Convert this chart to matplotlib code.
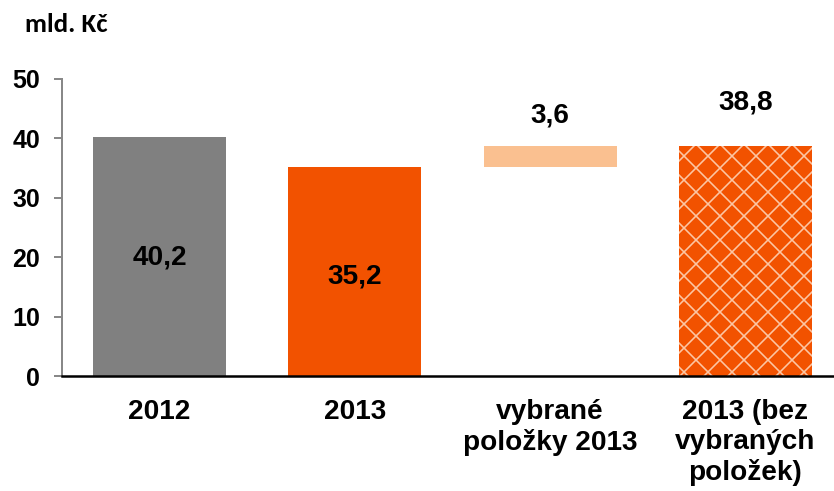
import matplotlib
matplotlib.use("Agg")
import matplotlib.pyplot as plt

categories = ["2012", "2013", "vybrané\npoložky 2013", "2013 (bez\nvybraných\npoložek)"]
bottoms = [0, 0, 35.2, 0]
heights = [40.2, 35.2, 3.6, 38.8]
labels = ["40,2", "35,2", "3,6", "38,8"]
yticks = [0, 10, 20, 30, 40, 50]
unit = "mld. Kč"

plt.rcParams['font.family'] = ['Liberation Sans', 'DejaVu Sans']
plt.rcParams['hatch.linewidth'] = 1.6

DPI = 72
fig = plt.figure(figsize=(834 / DPI, 491 / DPI), dpi=DPI)
ax = fig.add_axes([62/834, (491-376)/491, 781/834, (376-79)/491])

colors = ["#808080", "#F25200", "#FAC090", "#F25200"]
x = list(range(len(categories)))
bars = ax.bar(x, heights, bottom=bottoms, width=0.68, color=colors, edgecolor='none')
bars[3].set_hatch('x')
bars[3].set_edgecolor('#FCC6A4')
bars[3].set_linewidth(0)

# label placement: inside (middle) for first two, above for the rest
inside_shift = [-0.2, -0.8, None, None]
above_shift = [None, None, 5.1, 7.3]
for i, (b, h, lab) in enumerate(zip(bottoms, heights, labels)):
    if inside_shift[i] is not None:
        yv = b + h / 2 + inside_shift[i]
    else:
        yv = b + h + above_shift[i]
    ax.text(i, yv, lab, ha='center', va='center', fontsize=28, fontweight='bold', color='black')

ax.set_xlim(-0.5, 3.5)
ax.set_ylim(0, 50)
ax.set_yticks(yticks)
ax.set_yticklabels([str(t) for t in yticks], fontsize=25, fontweight='bold')
ax.set_xticks(x)
ax.set_xticklabels(categories, fontsize=28, fontweight='bold', linespacing=1.2)
ax.tick_params(axis='x', length=0, pad=23)
ax.tick_params(axis='y', length=8, width=2, color='#888888', direction='out', pad=14)
for s in ['top', 'right']:
    ax.spines[s].set_visible(False)
ax.spines['left'].set_color('#888888')
ax.spines['left'].set_linewidth(2)
ax.spines['bottom'].set_color('black')
ax.spines['bottom'].set_linewidth(2.5)

fig.text(25/834, 1 - 25/491, unit, ha='left', va='center', fontsize=27, fontweight='bold',
         family=['Carlito', 'Roboto Condensed', 'Liberation Sans Narrow', 'DejaVu Sans Condensed', 'Liberation Sans'])

fig.savefig("out.png", dpi=DPI)
